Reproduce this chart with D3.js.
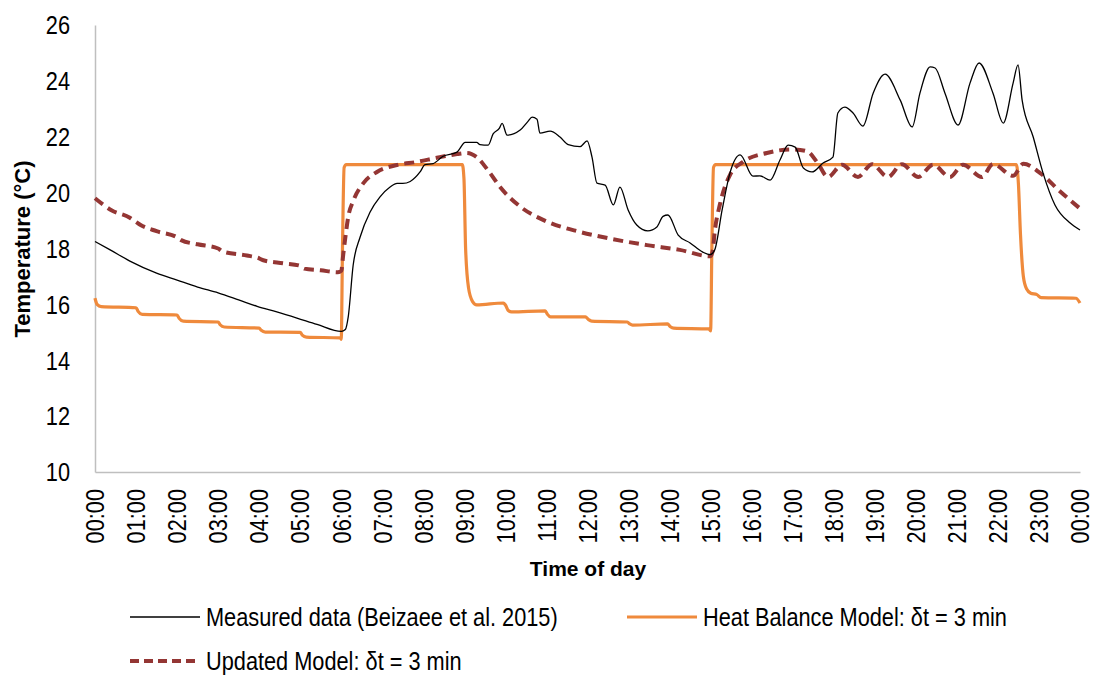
<!DOCTYPE html>
<html>
<head>
<meta charset="utf-8">
<script src="https://cdn.jsdelivr.net/npm/d3@7/dist/d3.min.js"></script>
<style>
  html, body { margin: 0; padding: 0; background: #ffffff; }
  svg { display: block; }
  .lbl { font-family: "Liberation Sans", Arial, sans-serif; fill: #000; }
</style>
</head>
<body>
<svg id="chart" width="1098" height="675"></svg>
<script>
// Hour-of-day tick labels (00:00 .. 23:00, then 00:00 again at the end of the day)
const hourLabels = d3.range(0, 25).map(h => String(h % 24).padStart(2, "0") + ":00");
const tempTicks = [10, 12, 14, 16, 18, 20, 22, 24, 26];

// Measured indoor temperature [hour, °C]
const measured = [
  [0,18.25],[0.37,17.95],[0.85,17.55],[1.5,17.12],[2.0,16.87],[2.5,16.62],[3.0,16.41],[3.5,16.16],
  [3.95,15.93],[4.43,15.73],[4.92,15.51],[5.41,15.28],[6.0,15.03],[6.1,15.1],[6.17,15.55],[6.29,17.4],
  [6.46,18.41],[6.7,19.3],[6.94,19.84],[7.19,20.2],[7.36,20.33],[7.5,20.33],[7.68,20.4],[7.92,20.74],
  [8.04,21.0],[8.24,21.04],[8.48,21.3],[8.82,21.45],[9.02,21.8],[9.3,21.8],[9.38,21.72],[9.58,21.7],
  [9.7,22.1],[9.85,22.3],[9.92,22.48],[10.04,22.06],[10.36,22.24],[10.55,22.55],[10.65,22.7],[10.77,22.63],
  [10.84,22.13],[11.09,22.2],[11.33,21.99],[11.53,21.72],[11.82,21.65],[11.99,21.85],[12.11,21.27],[12.23,20.34],
  [12.43,20.27],[12.63,19.56],[12.79,20.2],[12.99,19.38],[13.2,18.84],[13.47,18.63],[13.69,18.77],[13.84,19.15],
  [13.96,19.2],[14.21,18.48],[14.5,18.2],[14.81,17.87],[14.99,17.78],[15.1,17.95],[15.28,19.38],[15.47,20.7],
  [15.72,21.35],[16.03,20.59],[16.2,20.6],[16.45,20.45],[16.69,21.17],[16.89,21.7],[17.06,21.63],[17.26,20.88],
  [17.47,20.74],[17.74,21.06],[17.98,21.27],[18.1,22.85],[18.27,23.06],[18.47,22.85],[18.71,22.38],[18.96,23.56],
  [19.25,24.24],[19.62,23.31],[19.91,22.35],[20.1,23.56],[20.35,24.5],[20.47,24.46],[20.71,23.56],[21.03,22.42],
  [21.32,23.92],[21.54,24.64],[21.88,23.56],[22.13,22.49],[22.37,23.92],[22.49,24.57],[22.59,23.31],[22.86,21.99],
  [23.1,20.7],[23.39,19.56],[23.76,18.91],[24.0,18.66]
];

// Heat Balance Model, 3-minute time step [hour, °C]
const heatBalance = [
  [0,16.22],[0.05,16.0],[0.15,15.92],[1.0,15.88],[1.05,15.75],[1.15,15.64],[2.0,15.62],[2.05,15.5],
  [2.15,15.4],[3.0,15.37],[3.05,15.27],[3.15,15.19],[4.0,15.15],[4.05,15.07],[4.15,15.01],[5.0,15.0],
  [5.05,14.9],[5.15,14.83],[5.98,14.8],[6.0,14.75],[6.03,18.0],[6.07,20.9],[6.12,21.0],[8.95,21.0],
  [8.99,20.5],[9.03,18.0],[9.1,16.6],[9.2,16.1],[9.3,15.98],[9.95,16.05],[10.0,15.98],[10.07,15.78],
  [10.15,15.73],[10.97,15.77],[11.02,15.65],[11.1,15.55],[11.95,15.55],[12.02,15.46],[12.1,15.4],[12.97,15.37],
  [13.03,15.3],[13.1,15.26],[13.95,15.3],[14.02,15.2],[14.1,15.15],[14.96,15.12],[15.0,15.05],[15.03,18.0],
  [15.07,20.9],[15.12,21.0],[22.45,21.0],[22.5,20.3],[22.55,18.5],[22.62,17.0],[22.7,16.55],[22.8,16.4],
  [22.95,16.35],[23.05,16.24],[23.9,16.22],[24.0,16.05]
];

// Updated Model, 3-minute time step [hour, °C]
const updated = [
  [0,19.8],[0.4,19.37],[0.85,19.1],[1.0,18.95],[1.1,18.85],[1.5,18.62],[2.0,18.4],[2.1,18.3],
  [2.5,18.15],[3.0,18.0],[3.1,17.9],[3.7,17.75],[4.0,17.65],[4.1,17.58],[4.6,17.47],[5.0,17.38],
  [5.1,17.28],[5.5,17.22],[5.92,17.15],[6.0,17.2],[6.05,17.8],[6.1,18.4],[6.17,19.13],[6.3,19.73],
  [6.54,20.34],[6.87,20.74],[7.36,20.99],[7.85,21.1],[8.33,21.25],[8.82,21.38],[9.06,21.42],[9.3,21.27],
  [9.6,20.75],[9.87,20.2],[10.36,19.5],[11.0,18.97],[11.8,18.6],[12.6,18.34],[13.45,18.12],[14.25,17.95],
  [14.99,17.72],[15.05,17.9],[15.1,18.6],[15.23,19.6],[15.47,20.63],[15.79,21.1],[16.37,21.42],[17.0,21.55],
  [17.35,21.48],[17.6,21.08],[17.86,20.56],[18.2,21.0],[18.59,20.56],[18.93,21.02],[19.32,20.56],[19.66,21.02],
  [20.06,20.56],[20.42,21.0],[20.83,20.56],[21.15,21.0],[21.61,20.56],[21.88,21.02],[22.37,20.6],[22.62,21.03],
  [23.03,20.7],[23.51,20.05],[24.0,19.43]
];

const seriesNames = [
  "Measured data (Beizaee et al. 2015)",
  "Heat Balance Model: δt = 3 min",
  "Updated Model: δt = 3 min"
];

const svg = d3.select("#chart");
const plot = { left: 95, right: 1080, top: 25, bottom: 472 };

const x = d3.scaleLinear().domain([0, 24]).range([plot.left, plot.right]);
const y = d3.scaleLinear().domain([10, 26]).range([plot.bottom, plot.top]);

// Narrow text is drawn as a horizontally compressed sans face
const NARROW = 0.87;

// Y axis: grey spine, no tick marks
const yAxis = d3.axisLeft(y).tickValues(tempTicks).tickSize(0);
const gy = svg.append("g").attr("transform", `translate(${plot.left},0)`).call(yAxis);
gy.select(".domain").attr("stroke", "#bfbfbf").attr("stroke-width", 1.5);
gy.selectAll("text")
  .attr("class", "lbl")
  .style("font-size", "25px")
  .attr("x", 0).attr("dy", "0.35em")
  .attr("text-anchor", "end")
  .attr("transform", `translate(-25,0) scale(${NARROW},1)`);

// X axis: grey spine, vertical hour labels
const xAxis = d3.axisBottom(x).tickValues(d3.range(0, 25)).tickFormat(d => hourLabels[d]).tickSize(0);
const gx = svg.append("g").attr("transform", `translate(0,${plot.bottom})`).call(xAxis);
gx.select(".domain").attr("stroke", "#bfbfbf").attr("stroke-width", 1.5);
gx.selectAll("text")
  .attr("class", "lbl")
  .style("font-size", "25px")
  .attr("text-anchor", "end")
  .attr("x", 0).attr("y", 0)
  .attr("dy", "0.35em")
  .attr("transform", `rotate(-90) translate(-17,0) scale(${NARROW},1)`);

// Axis titles
svg.append("text").attr("class", "lbl")
  .attr("transform", "translate(30,249) rotate(-90)")
  .attr("text-anchor", "middle")
  .style("font-size", "22px").style("font-weight", "bold")
  .text("Temperature (°C)");

svg.append("text").attr("class", "lbl")
  .attr("x", 588).attr("y", 576)
  .attr("text-anchor", "middle")
  .style("font-size", "21px").style("font-weight", "bold")
  .text("Time of day");

// Series lines
const line = d3.line().x(d => x(d[0])).y(d => y(d[1])).curve(d3.curveMonotoneX);

svg.append("path").datum(heatBalance)
  .attr("d", line).attr("fill", "none")
  .attr("stroke", "#ef8a3c").attr("stroke-width", 3.2).attr("stroke-linejoin", "round");

svg.append("path").datum(updated)
  .attr("d", line).attr("fill", "none")
  .attr("stroke", "#943634").attr("stroke-width", 4).attr("stroke-dasharray", "10,6");

svg.append("path").datum(measured)
  .attr("d", line).attr("fill", "none")
  .attr("stroke", "#000").attr("stroke-width", 1.3);

// Legend
const legend = [
  { name: seriesNames[0], x: 130, y: 617, stroke: "#000", width: 1.3, dash: null },
  { name: seriesNames[1], x: 627, y: 617, stroke: "#ef8a3c", width: 3.2, dash: null },
  { name: seriesNames[2], x: 130, y: 661, stroke: "#943634", width: 4, dash: "9,5" }
];
const lg = svg.append("g").selectAll("g").data(legend).join("g")
  .attr("transform", d => `translate(${d.x},${d.y})`);
lg.append("line").attr("x1", 0).attr("x2", 70).attr("y1", 0).attr("y2", 0)
  .attr("stroke", d => d.stroke).attr("stroke-width", d => d.width)
  .attr("stroke-dasharray", d => d.dash);
lg.append("text").attr("class", "lbl")
  .attr("x", 0).attr("y", 0).attr("dy", "0.35em")
  .attr("transform", `translate(76,0) scale(${NARROW},1)`)
  .style("font-size", "25px")
  .text(d => d.name);
</script>
</body>
</html>
